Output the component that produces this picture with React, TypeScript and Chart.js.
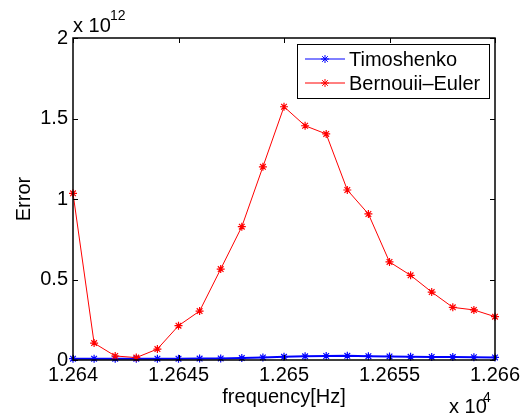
import React, { useEffect, useRef } from 'react';
import { Chart, registerables } from 'chart.js';

Chart.register(...registerables);

const frequencies = [12640, 12641, 12642, 12643, 12644, 12645, 12646, 12647, 12648, 12649, 12650, 12651, 12652, 12653, 12654, 12655, 12656, 12657, 12658, 12659, 12660];
const timoshenkoError = [0.008, 0.008, 0.008, 0.008, 0.008, 0.008, 0.009, 0.01, 0.012, 0.016, 0.02, 0.023, 0.025, 0.026, 0.024, 0.022, 0.02, 0.019, 0.018, 0.017, 0.016].map((v) => v * 1e12);
const bernoulliError = [1.035, 0.105, 0.025, 0.015, 0.068, 0.213, 0.304, 0.565, 0.828, 1.2, 1.573, 1.455, 1.404, 1.056, 0.907, 0.609, 0.526, 0.422, 0.327, 0.311, 0.269].map((v) => v * 1e12);
const xTicks = [12640, 12645, 12650, 12655, 12660];
const yTicks = [0, 0.5e12, 1e12, 1.5e12, 2e12];
const seriesLabels = ['Timoshenko', 'Bernouii\u2013Euler'];
const seriesColors = ['#0000ff', '#ff0000'];

const FONT = '"Liberation Sans", Arial, Helvetica, sans-serif';

function drawStar(ctx: CanvasRenderingContext2D, x: number, y: number, r: number, color: string) {
  ctx.save();
  ctx.strokeStyle = color;
  ctx.lineWidth = 1;
  ctx.beginPath();
  ctx.moveTo(x - r, y); ctx.lineTo(x + r, y);
  ctx.moveTo(x, y - r); ctx.lineTo(x, y + r);
  const d = r * Math.SQRT1_2;
  ctx.moveTo(x - d, y - d); ctx.lineTo(x + d, y + d);
  ctx.moveTo(x - d, y + d); ctx.lineTo(x + d, y - d);
  ctx.stroke();
  ctx.restore();
}

const framePlugin = {
  id: 'matlabFrame',
  afterDraw(chart: any) {
    const { ctx, chartArea } = chart;
    const { left, right, top, bottom } = chartArea;
    const xs = chart.scales.x;
    const ys = chart.scales.y;
    ctx.save();
    ctx.strokeStyle = '#000';
    ctx.lineWidth = 1.5;
    ctx.strokeRect(left, top, right - left, bottom - top);
    const tl = 5;
    ctx.lineWidth = 1;
    ctx.beginPath();
    xTicks.forEach((v) => {
      const px = Math.round(xs.getPixelForValue(v)) + 0.5;
      ctx.moveTo(px, bottom); ctx.lineTo(px, bottom - tl);
      ctx.moveTo(px, top); ctx.lineTo(px, top + tl);
    });
    yTicks.forEach((v) => {
      const py = Math.round(ys.getPixelForValue(v)) + 0.5;
      ctx.moveTo(left, py); ctx.lineTo(left + tl, py);
      ctx.moveTo(right, py); ctx.lineTo(right - tl, py);
    });
    ctx.stroke();

    // exponent labels
    ctx.fillStyle = '#000';
    ctx.textBaseline = 'alphabetic';
    ctx.textAlign = 'left';
    ctx.font = `20px ${FONT}`;
    ctx.fillText('x 10', left, 32);
    ctx.font = `14px ${FONT}`;
    ctx.fillText('12', left + 37, 20);
    ctx.font = `20px ${FONT}`;
    ctx.fillText('x 10', 449, 413);
    ctx.font = `14px ${FONT}`;
    ctx.fillText('4', 483, 402);

    // legend
    const bx = 297, by = 44, bw = 192, bh = 54;
    ctx.fillStyle = '#fff';
    ctx.fillRect(bx, by, bw, bh);
    ctx.strokeStyle = '#000';
    ctx.lineWidth = 1;
    ctx.strokeRect(bx + 0.5, by + 0.5, bw, bh);
    const rows = [59, 83];
    seriesLabels.forEach((label, i) => {
      const yy = rows[i];
      ctx.strokeStyle = seriesColors[i];
      ctx.lineWidth = 1;
      ctx.beginPath();
      ctx.moveTo(305, yy); ctx.lineTo(345, yy);
      ctx.stroke();
      drawStar(ctx, 325, yy, 4, seriesColors[i]);
      ctx.fillStyle = '#000';
      ctx.font = `20px ${FONT}`;
      ctx.textBaseline = 'middle';
      ctx.fillText(label, 349, yy + 1);
    });
    ctx.restore();
  },
};

export default function App() {
  const canvasRef = useRef<HTMLCanvasElement | null>(null);

  useEffect(() => {
    if (!canvasRef.current) return;
    const chart = new Chart(canvasRef.current, {
      type: 'line',
      data: {
        labels: frequencies,
        datasets: [
          {
            label: seriesLabels[0],
            data: frequencies.map((f, i) => ({ x: f, y: timoshenkoError[i] })),
            borderColor: seriesColors[0],
            backgroundColor: seriesColors[0],
            borderWidth: 2,
            pointStyle: 'star',
            pointRadius: 4,
            pointBorderWidth: 1.2,
            pointBorderColor: seriesColors[0],
            fill: false,
            tension: 0,
            clip: false as any,
            order: 1,
          },
          {
            label: seriesLabels[1],
            data: frequencies.map((f, i) => ({ x: f, y: bernoulliError[i] })),
            borderColor: seriesColors[1],
            backgroundColor: seriesColors[1],
            borderWidth: 1,
            pointStyle: 'star',
            pointRadius: 4,
            pointBorderWidth: 1.2,
            pointBorderColor: seriesColors[1],
            fill: false,
            tension: 0,
            clip: false as any,
            order: 0,
          },
        ],
      },
      options: {
        animation: false,
        responsive: true,
        maintainAspectRatio: false,
        layout: { padding: { left: 0, top: 38, right: 31, bottom: 0 } },
        plugins: { legend: { display: false }, tooltip: { enabled: false } },
        scales: {
          x: {
            type: 'linear',
            min: 12640,
            max: 12660,
            afterBuildTicks: (s: any) => { s.ticks = xTicks.map((v) => ({ value: v })); },
            afterFit: (s: any) => { s.height = 58; },
            grid: { display: false, drawTicks: false },
            border: { display: false },
            ticks: {
              color: '#000',
              font: { family: FONT, size: 20 },
              padding: 3,
              maxRotation: 0,
              autoSkip: false,
              callback: (v: any) => String(Number((Number(v) / 1e4).toFixed(4))),
            },
            title: {
              display: true,
              text: 'frequency[Hz]',
              color: '#000',
              font: { family: FONT, size: 20 },
              padding: { top: 0, bottom: 9 },
            },
          },
          y: {
            type: 'linear',
            min: 0,
            max: 2e12,
            afterBuildTicks: (s: any) => { s.ticks = yTicks.map((v) => ({ value: v })); },
            afterFit: (s: any) => { s.width = 73; },
            grid: { display: false, drawTicks: false },
            border: { display: false },
            ticks: {
              color: '#000',
              font: { family: FONT, size: 20 },
              padding: 5,
              autoSkip: false,
              callback: (v: any) => String(Number(v) / 1e12),
            },
            title: {
              display: true,
              text: 'Error',
              color: '#000',
              font: { family: FONT, size: 20 },
              padding: { top: 12, bottom: 0 },
            },
          },
        },
      },
      plugins: [framePlugin],
    });
    return () => chart.destroy();
  }, []);

  return (
    <div style={{ position: 'fixed', left: 0, top: 0, width: 526, height: 418, background: '#fff' }}>
      <canvas ref={canvasRef} />
    </div>
  );
}
